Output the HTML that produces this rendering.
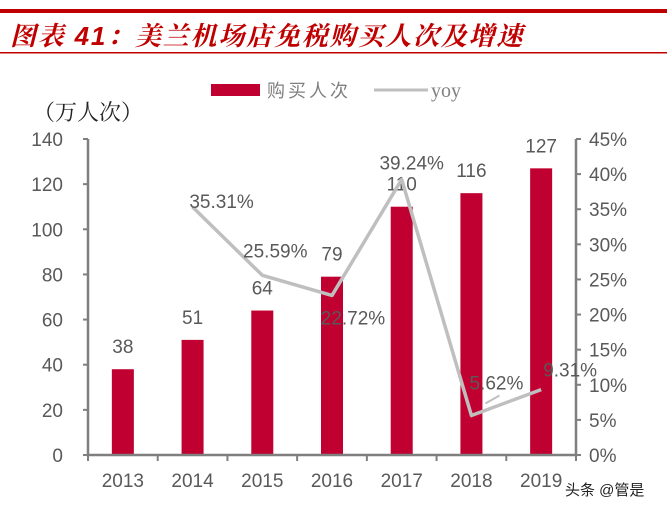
<!DOCTYPE html>
<html><head><meta charset="utf-8">
<style>
body{margin:0;background:#fff;}
svg{display:block;font-family:"Liberation Sans","Noto Sans CJK SC",sans-serif;}
</style></head>
<body>
<svg id="c" width="667" height="509" viewBox="0 0 667 509" xmlns="http://www.w3.org/2000/svg">
<rect x="0" y="9" width="667" height="4" fill="#c00000"/>
<text x="10" y="45" font-size="26" font-weight="bold" font-style="italic" fill="#c00000" letter-spacing="1.8" font-family="'Liberation Sans','Noto Serif CJK SC',serif">图表 41：美兰机场店免税购买人次及增速</text>
<rect x="0" y="52" width="667" height="1.5" fill="#c00000"/>
<rect x="211" y="84" width="49" height="12" fill="#c00030"/>
<text x="267" y="97" font-size="18" fill="#808080" letter-spacing="3">购买人次</text>
<line x1="374" y1="90" x2="428" y2="90" stroke="#bfbfbf" stroke-width="3"/>
<text x="431" y="97" font-size="20" fill="#808080" font-family="'Liberation Serif',serif">yoy</text>
<text x="33" y="120" font-size="22" fill="#222" font-family="'Liberation Serif','Noto Serif CJK SC',serif">（万人次）</text>
<g id="plot"></g>
<text x="565" y="495" font-size="15" fill="#222">头条 @管是</text>
</svg>
<script>
const categories=["2013","2014","2015","2016","2017","2018","2019"];
const buyers=[38,51,64,79,110,116,127];
const yoyYears=["2014","2015","2016","2017","2018","2019"];
const yoy=[35.31,25.59,22.72,39.24,5.62,9.31];
const yoyLabels=["35.31%","25.59%","22.72%","39.24%","5.62%","9.31%"];
const leftTicks=[0,20,40,60,80,100,120,140];
const rightTicks=[0,5,10,15,20,25,30,35,40,45];

const NS="http://www.w3.org/2000/svg";
const g=document.getElementById('plot');
const X0=88,X1=576,Y0=455,Y1=139;
const band=(X1-X0)/categories.length;
const xc=i=>X0+band*(i+0.5);
const yL=v=>Y0-(v/140)*(Y0-Y1);
const yR=v=>Y0-(v/45)*(Y0-Y1);
function mk(t,a){const e=document.createElementNS(NS,t);for(const k in a)e.setAttribute(k,a[k]);g.appendChild(e);return e;}
buyers.forEach((v,i)=>{
 const r=mk('rect',{x:xc(i)-11,y:yL(v),width:22,height:Y0-yL(v),fill:'#c00030'});
 
 
 const t=mk('text',{x:xc(i),y:yL(v)-16,'font-size':19,fill:'#595959','text-anchor':'middle'});
 t.textContent=v;
 
 
});
const ax=mk('path',{d:`M${X0},${Y1}V${Y0}H${X1}V${Y1}`,stroke:'#7f7f7f','stroke-width':2.5,fill:'none'});


for(let i=0;i<=categories.length;i++){const l=mk('line',{x1:X0+band*i,x2:X0+band*i,y1:Y0,y2:Y0+6,stroke:'#7f7f7f','stroke-width':2});
 }
leftTicks.forEach(v=>{
 const l=mk('line',{x1:X0-5,x2:X0,y1:yL(v),y2:yL(v),stroke:'#7f7f7f','stroke-width':2});
 
 const t=mk('text',{x:63,y:yL(v)+7,'font-size':19,fill:'#595959','text-anchor':'end'});t.textContent=v;
 
});
rightTicks.forEach(v=>{
 const l=mk('line',{x1:X1,x2:X1+5,y1:yR(v),y2:yR(v),stroke:'#7f7f7f','stroke-width':2});
 
 const t=mk('text',{x:589,y:yR(v)+7,'font-size':19,fill:'#595959'});t.textContent=v+'%';
 
});
categories.forEach((c,i)=>{
 const t=mk('text',{x:xc(i),y:487,'font-size':19,fill:'#595959','text-anchor':'middle'});t.textContent=c;
 
});
const pts=yoy.map((v,i)=>[xc(categories.indexOf(yoyYears[i])),yR(v)]);
const pl=mk('polyline',{points:pts.map(p=>p.join(',')).join(' '),fill:'none',stroke:'#bfbfbf','stroke-width':3.5,'stroke-linejoin':'round'});


const off=[[29,-6],[13,-25],[21,22],[10,-17],[25,-33],[29,-20]];
pts.forEach((p,i)=>{
 const t=mk('text',{x:p[0]+off[i][0],y:p[1]+off[i][1]+7,'font-size':19,fill:'#595959','text-anchor':'middle'});
 t.textContent=yoyLabels[i];
 
 
});
const ld=mk('line',{x1:pts[4][0]+14,y1:pts[4][1]-12,x2:pts[4][0]+28,y2:pts[4][1]-20,stroke:'#bfbfbf','stroke-width':2});

</script>
</body></html>
